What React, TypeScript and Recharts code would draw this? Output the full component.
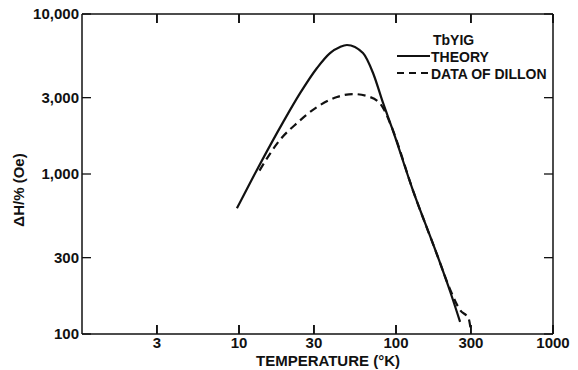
import { Line, LineChart, ReferenceLine, XAxis, YAxis } from "recharts";

// temperatures (°K) and linewidths (Oe)
const theoryT = [9.7, 13, 19.1, 24.5, 31.4, 38, 44, 48.7, 61.6, 71.4, 82.7, 94.3, 128, 182, 221, 256];
const theoryH = [610, 1060, 2110, 3200, 4600, 5700, 6220, 6400, 5700, 4280, 2780, 1940, 794, 316, 185, 119];

const dillonT = [13.5, 18.2, 23.4, 31.4, 42.1, 53.2, 68.3, 82.7, 94.3, 128, 182, 221, 256, 290, 300];
const dillonH = [1050, 1630, 2080, 2620, 3030, 3160, 3030, 2590, 1940, 794, 316, 190, 141, 125, 104];

const xTicks = [3, 10, 30, 100, 300, 1000];
const yTicks = [100, 300, 1000, 3000, 10000];

const theory = theoryT.map((t, i) => ({ t, h: theoryH[i] }));
const dillon = dillonT.map((t, i) => ({ t, h: dillonH[i] }));

const FONT = "'Liberation Sans', Arial, sans-serif";
const INK = "#111";
const TICK = 9;

function BottomTick({ x, y, payload }: any) {
  return (
    <g>
      <rect x={x - 0.8} y={y - TICK} width={1.6} height={TICK} fill={INK} />
      <text x={x} y={y + 14} textAnchor="middle" fontSize={15} fontWeight="bold" fill={INK} fontFamily={FONT}>
        {payload.value}
      </text>
    </g>
  );
}

function TopTick({ x, y }: any) {
  return <rect x={x - 0.8} y={y} width={1.6} height={TICK} fill={INK} />;
}

function LeftTick({ x, y, payload }: any) {
  return (
    <g>
      <line x1={x} y1={y} x2={x + TICK} y2={y} stroke={INK} strokeWidth={1.3} />
      <text x={x - 3} y={y + 5} textAnchor="end" fontSize={15} fontWeight="bold" fill={INK} fontFamily={FONT}>
        {payload.value.toLocaleString("en-US")}
      </text>
    </g>
  );
}

function RightTick({ x, y }: any) {
  return <line x1={x} y1={y} x2={x - TICK} y2={y} stroke={INK} strokeWidth={1.3} />;
}

// short inward marks at the top and bottom edges of the plot for an x tick
function XTickMarks(props: any) {
  const { x1, y1, y2 } = props;
  if (x1 == null || y1 == null || y2 == null) return <g />;
  const top = Math.min(y1, y2);
  const bot = Math.max(y1, y2);
  return (
    <g>
      <rect x={x1 - 0.8} y={top} width={1.6} height={TICK} fill={INK} />
      <rect x={x1 - 0.8} y={bot - TICK} width={1.6} height={TICK} fill={INK} />
    </g>
  );
}

const txt = { fontSize: 14, fontWeight: "bold", fill: INK, fontFamily: FONT } as const;

export default function App() {
  return (
    <div style={{ position: "absolute", left: 0, top: 0, background: "#fff" }}>
      <LineChart width={578} height={370} margin={{ top: 13, right: 24, bottom: 0, left: 0 }}>
        <XAxis
          xAxisId="b"
          dataKey="t"
          type="number"
          scale="log"
          domain={[1, 1000]}
          ticks={xTicks}
          tick={<BottomTick />}
          tickSize={0}
          tickMargin={0}
          tickLine={false}
          axisLine={{ stroke: INK, strokeWidth: 1.5 }}
          height={36}
          allowDataOverflow
          interval={0}
        />
        <XAxis
          xAxisId="t"
          orientation="top"
          dataKey="t"
          type="number"
          scale="log"
          domain={[1, 1000]}
          ticks={xTicks}
          tick={<TopTick />}
          tickSize={0}
          tickMargin={0}
          tickLine={false}
          axisLine={{ stroke: INK, strokeWidth: 1.5 }}
          height={1}
          allowDataOverflow
          interval={0}
        />
        <YAxis
          yAxisId="l"
          type="number"
          scale="log"
          domain={[100, 10000]}
          ticks={yTicks}
          tick={<LeftTick />}
          tickSize={0}
          tickMargin={0}
          tickLine={false}
          axisLine={{ stroke: INK, strokeWidth: 1.5 }}
          width={82}
          allowDataOverflow
          interval={0}
        />
        <YAxis
          yAxisId="r"
          orientation="right"
          type="number"
          scale="log"
          domain={[100, 10000]}
          ticks={yTicks}
          tick={<RightTick />}
          tickSize={0}
          tickMargin={0}
          tickLine={false}
          axisLine={{ stroke: INK, strokeWidth: 1.5 }}
          width={1}
          allowDataOverflow
          interval={0}
        />
        {xTicks.map((v) => (
          <ReferenceLine key={v} x={v} xAxisId="b" yAxisId="l" shape={XTickMarks} ifOverflow="visible" />
        ))}
        <Line
          xAxisId="b"
          yAxisId="l"
          data={theory}
          dataKey="h"
          type="monotone"
          stroke={INK}
          strokeWidth={2.2}
          dot={false}
          isAnimationActive={false}
        />
        <Line
          xAxisId="b"
          yAxisId="l"
          data={dillon}
          dataKey="h"
          type="monotone"
          stroke={INK}
          strokeWidth={2.2}
          strokeDasharray="8 5"
          dot={false}
          isAnimationActive={false}
        />
        {/* legend */}
        <text x={433} y={45} {...txt}>TbYIG</text>
        <line x1={397} y1={56} x2={430} y2={56} stroke={INK} strokeWidth={2} />
        <text x={431} y={62} {...txt}>THEORY</text>
        <line x1={397} y1={73} x2={430} y2={73} stroke={INK} strokeWidth={2} strokeDasharray="7 5" />
        <text x={431} y={79} {...txt}>DATA OF DILLON</text>
        <text x={328} y={366} textAnchor="middle" fontSize={15} fontWeight="bold" fill={INK} fontFamily={FONT}>
          TEMPERATURE (°K)
        </text>
        <text
          x={24}
          y={190}
          textAnchor="middle"
          fontSize={15}
          fontWeight="bold"
          fill={INK}
          fontFamily={FONT}
          transform="rotate(-90 24 190)"
        >
          ΔH/% (Oe)
        </text>
      </LineChart>
    </div>
  );
}
